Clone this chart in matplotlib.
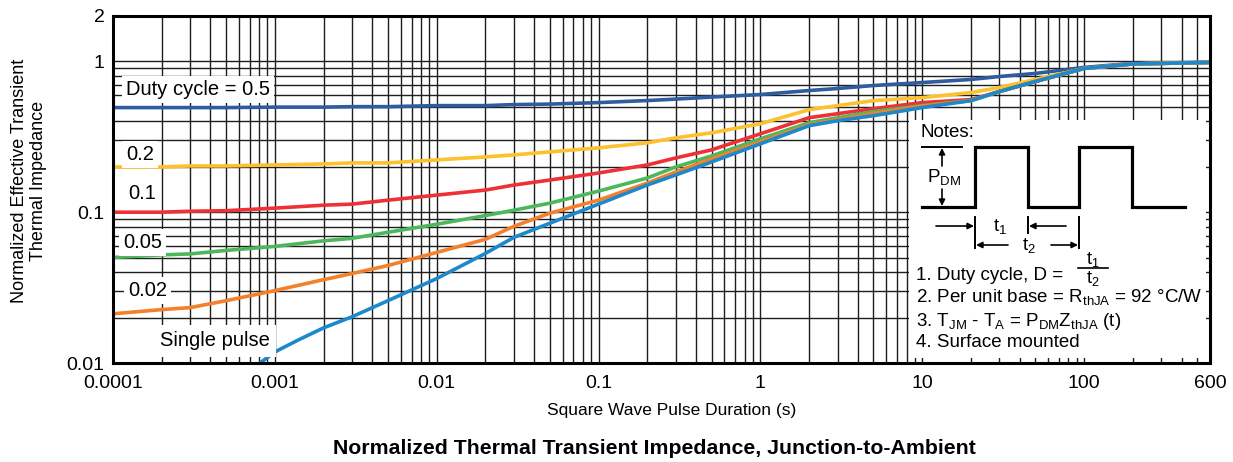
###########################################################################################
#   Normalized thermal transient impedance, junction-to-ambient (datasheet curve sheet)
###########################################################################################

import numpy as np

import matplotlib
matplotlib.use('Agg')
import matplotlib.pyplot as plt

from matplotlib.ticker import FixedLocator, FixedFormatter, NullFormatter

plt.rcParams['font.family'] = ['Liberation Sans', 'DejaVu Sans']
plt.rcParams['mathtext.fontset'] = 'custom'
plt.rcParams['mathtext.rm'] = 'Liberation Sans'
plt.rcParams['mathtext.it'] = 'Liberation Sans:italic'

################### *** data *** ##########################################################

# pulse duration (s) for the duty cycle curves
t_dc = [1e-4, 2e-4, 3e-4, 5e-4, 1e-3, 2e-3, 3e-3, 5e-3, 0.01, 0.02, 0.03, 0.05,
        0.1, 0.2, 0.3, 0.5, 1, 2, 3, 5, 10, 20, 30, 50, 100, 200, 300, 600]

zth_d50 = [0.494, 0.494, 0.494, 0.494, 0.4975, 0.4975, 0.501, 0.501, 0.509, 0.509, 0.517, 0.521,
           0.533, 0.550, 0.5623, 0.580, 0.603, 0.641, 0.661, 0.692, 0.724, 0.759, 0.794, 0.832,
           0.912, 0.970, 0.977, 0.985]
zth_d20 = [0.1995, 0.1995, 0.2026, 0.2026, 0.2057, 0.2089, 0.2122, 0.2122, 0.2222, 0.2326, 0.2399, 0.2512,
           0.2671, 0.2884, 0.3113, 0.3362, 0.386, 0.4786, 0.509, 0.5495, 0.575, 0.621, 0.671, 0.759,
           0.898, 0.962, 0.970, 0.985]
zth_d10 = [0.100, 0.100, 0.1015, 0.1023, 0.1064, 0.1113, 0.1131, 0.1202, 0.1298, 0.1402, 0.1514, 0.1634,
           0.182, 0.2057, 0.229, 0.2591, 0.331, 0.4233, 0.450, 0.486, 0.533, 0.558, 0.631, 0.736,
           0.898, 0.962, 0.970, 0.985]
zth_d05 = [0.0501, 0.0521, 0.0529, 0.0558, 0.0593, 0.0646, 0.0671, 0.0736, 0.0832, 0.0950, 0.1031, 0.1148,
           0.138, 0.1685, 0.1995, 0.2362, 0.3067, 0.392, 0.4233, 0.464, 0.509, 0.5495, 0.631, 0.736,
           0.898, 0.962, 0.970, 0.985]
zth_d02 = [0.0212, 0.0226, 0.0233, 0.0259, 0.0302, 0.0357, 0.0392, 0.0443, 0.0541, 0.0661, 0.0806, 0.0985,
           0.1202, 0.1561, 0.1848, 0.2256, 0.2929, 0.380, 0.411, 0.450, 0.505, 0.5495, 0.631, 0.736,
           0.898, 0.962, 0.970, 0.985]

# single pulse curve starts inside the plot
t_sp = [8e-4, 1e-3, 1.4e-3, 2e-3, 3e-3, 5e-3, 0.01, 0.02, 0.03, 0.05, 0.1, 0.2, 0.3, 0.5,
        1, 2, 3, 5, 10, 20, 30, 50, 100, 200, 300, 600]
zth_sp = [0.0099, 0.01184, 0.01424, 0.0171, 0.02026, 0.0259, 0.0363, 0.0533, 0.0681, 0.0845,
          0.1131, 0.1514, 0.1765, 0.2154, 0.284, 0.3745, 0.4043, 0.4365, 0.494, 0.5495,
          0.631, 0.736, 0.898, 0.962, 0.970, 0.985]

curve_labels = ['Duty cycle = 0.5', '0.2', '0.1', '0.05', '0.02', 'Single pulse']
label_t = [1.2e-4, 1.2e-4, 1.24e-4, 1.15e-4, 1.24e-4, 1.95e-4]
label_z = [0.65, 0.243, 0.134, 0.063, 0.0302, 0.014]
label_pad = [0.2, 0.2, 0.2, 0.2, 0.2, 0.32]

x_ticks = [1e-4, 1e-3, 1e-2, 0.1, 1, 10, 100, 600]
x_ticklabels = ['0.0001', '0.001', '0.01', '0.1', '1', '10', '100', '600']
y_ticks = [0.01, 0.1, 1, 2]
y_ticklabels = ['0.01', '0.1', '1', '2']

notes = ['1. Duty cycle, D =',
         '2. Per unit base = R$_{\\rm thJA}$ = 92 \u00b0C/W',
         '3. T$_{\\rm JM}$ - T$_{\\rm A}$ = P$_{\\rm DM}$Z$_{\\rm thJA}$ (t)',
         '4. Surface mounted']

################## *** plot data *** ######################################################

W, H = 1233, 462
fx = lambda px: px / W
fy = lambda py: 1. - py / H

fig = plt.figure(figsize=(W / 100., H / 100.), dpi=100)
ax = fig.add_axes([fx(113), fy(363), fx(1210) - fx(113), fy(16) - fy(363)])

ax.set_xscale('log'); ax.set_yscale('log')
ax.set_xlim(1e-4, 600); ax.set_ylim(0.01, 2)

# grid: every decade and every 2..9 step
x_minor = [k * 10.**n for n in range(-4, 2) for k in range(2, 10)] + [200, 300, 400, 500]
y_minor = [k * 10.**n for n in range(-2, 0) for k in range(2, 10)]
ax.xaxis.set_major_locator(FixedLocator(x_ticks))
ax.xaxis.set_major_formatter(FixedFormatter(x_ticklabels))
ax.xaxis.set_minor_locator(FixedLocator(x_minor))
ax.xaxis.set_minor_formatter(NullFormatter())
ax.yaxis.set_major_locator(FixedLocator(y_ticks))
ax.yaxis.set_major_formatter(FixedFormatter(y_ticklabels))
ax.yaxis.set_minor_locator(FixedLocator(y_minor))
ax.yaxis.set_minor_formatter(NullFormatter())

ax.grid(which='both', color='#1e1e1e', lw=1.0)
ax.set_axisbelow(True)
ax.tick_params(which='both', length=0, labelsize=14, colors='k')
ax.tick_params(axis='x', pad=9)
ax.tick_params(axis='y', pad=6)
for s in ax.spines.values():
    s.set_linewidth(2.2); s.set_color('k')

lw = 2.6
ax.plot(t_dc, zth_d50, color='#2f5b9f', lw=lw, solid_capstyle='butt')
ax.plot(t_dc, zth_d20, color='#fcc12c', lw=lw, solid_capstyle='butt')
ax.plot(t_dc, zth_d10, color='#ee3136', lw=lw, solid_capstyle='butt')
ax.plot(t_dc, zth_d05, color='#4cb85b', lw=lw, solid_capstyle='butt')
ax.plot(t_dc, zth_d02, color='#f5802c', lw=lw, solid_capstyle='butt')
ax.plot(t_sp, zth_sp, color='#1d89cb', lw=lw, solid_capstyle='butt')

for lab, tx, zy, pd in zip(curve_labels, label_t, label_z, label_pad):
    ax.text(tx, zy, lab, fontsize=14.5, ha='left', va='center',
            bbox=dict(boxstyle='square,pad=%.2f' % pd, fc='white', ec='none'))

############## notes box (drawn in pixel units)

axn = fig.add_axes([fx(909), fy(358), fx(1206) - fx(909), fy(120) - fy(358)])
axn.set_xlim(909, 1206); axn.set_ylim(358, 120)
axn.set_facecolor('white')
axn.set_xticks([]); axn.set_yticks([])
for s in axn.spines.values():
    s.set_visible(False)

axn.text(920, 137, 'Notes:', fontsize=13.5, ha='left', va='baseline')

# square wave
wx = [922, 975, 975, 1028, 1028, 1079, 1079, 1132, 1132, 1185]
wy = [207, 207, 147, 147, 207, 207, 147, 147, 207, 207]
axn.plot(wx, wy, color='k', lw=2.3, solid_joinstyle='miter')

ap = dict(arrowstyle='-|>', color='k', lw=1.2, mutation_scale=9, shrinkA=0, shrinkB=0)
axn.plot([922, 962], [147, 147], color='k', lw=1.4)
axn.annotate('', xy=(942, 148), xytext=(942, 166), arrowprops=ap)
axn.annotate('', xy=(942, 206), xytext=(942, 189), arrowprops=ap)
axn.text(927, 182, 'P$_{\\rm DM}$', fontsize=13.5, ha='left', va='baseline')

axn.plot([975, 975], [217, 248], color='k', lw=1.4)
axn.plot([1028, 1028], [217, 233], color='k', lw=1.4)
axn.plot([1079, 1079], [217, 248], color='k', lw=1.4)
axn.annotate('', xy=(974, 226), xytext=(936, 226), arrowprops=ap)
axn.annotate('', xy=(1029, 226), xytext=(1066, 226), arrowprops=ap)
axn.annotate('', xy=(976, 245), xytext=(1008, 245), arrowprops=ap)
axn.annotate('', xy=(1078, 245), xytext=(1051, 245), arrowprops=ap)
axn.text(1000, 231, 't$_1$', fontsize=13.5, ha='center', va='baseline')
axn.text(1029, 250, 't$_2$', fontsize=13.5, ha='center', va='baseline')

# notes lines
note_y = [280, 302, 326, 347]
for txt, yb in zip(notes, note_y):
    axn.text(916, yb, txt, fontsize=13.5, ha='left', va='baseline')
axn.text(1093, 264, 't$_1$', fontsize=13, ha='center', va='baseline')
axn.plot([1078, 1108], [267.5, 267.5], color='k', lw=1.2)
axn.text(1093, 283, 't$_2$', fontsize=13, ha='center', va='baseline')

############## labels and title

fig.text(fx(29), fy(181), 'Normalized Effective Transient\nThermal Impedance', fontsize=13,
         rotation=90, ha='center', va='center', multialignment='center', linespacing=1.2)
fig.text(fx(672), fy(411), 'Square Wave Pulse Duration (s)', fontsize=12.5,
         ha='center', va='center')
fig.text(fx(654), fy(448), 'Normalized Thermal Transient Impedance, Junction-to-Ambient',
         fontsize=15.3, fontweight='bold', ha='center', va='center')

plt.savefig('out.png', dpi=100)
plt.close()
